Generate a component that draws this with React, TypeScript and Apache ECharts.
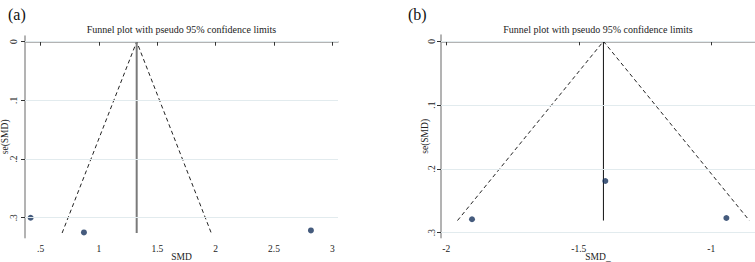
import React, { useEffect, useRef } from "react";
import * as echarts from "echarts";

// Panel (a)
const STUDY_A_SMD = [0.414, 0.871, 2.816];
const STUDY_A_SE = [0.3, 0.325, 0.3216];
const POOLED_A = 1.323;
const MAX_SE_A = 0.326;
const X_TICKS_A = [0.5, 1, 1.5, 2, 2.5, 3];

// Panel (b)
const STUDY_B_SMD = [-1.903, -1.4, -0.943];
const STUDY_B_SE = [0.279, 0.219, 0.277];
const POOLED_B = -1.407;
const MAX_SE_B = 0.281;
const X_TICKS_B = [-2, -1.5, -1];

const Y_TICKS = [0, 0.1, 0.2, 0.3];
const Z95 = 1.96;

const TITLE = "Funnel plot with pseudo 95% confidence limits";
const FONT = "'Liberation Serif', 'Times New Roman', serif";

const fmt = (v: number) => String(v).replace(/^(-?)0\./, "$1.");

function funnel(center: number, maxSe: number) {
  return [
    [center - Z95 * maxSe, maxSe],
    [center, 0],
    [center + Z95 * maxSe, maxSe],
  ];
}

export default function App() {
  const ref = useRef<HTMLDivElement>(null);
  useEffect(() => {
    if (!ref.current) return;
    const chart = echarts.init(ref.current, null, { renderer: "svg" });

    const xAxisBase = (gridIndex: number, ticks: number[], min: number, max: number, name: string) => ({
      type: "value",
      gridIndex,
      min,
      max,
      name,
      nameLocation: "middle",
      nameGap: 14,
      nameMoveOverlap: false,
      nameTextStyle: { fontFamily: FONT, fontSize: 9.5, color: "#222" },
      axisLine: { show: true, lineStyle: { color: "#9a9a9a", width: 1.5 } },
      axisTick: { show: true, customValues: ticks, length: 4, lineStyle: { color: "#333", width: 1 } },
      axisLabel: { customValues: ticks, formatter: fmt, fontFamily: FONT, fontSize: 9.5, color: "#222", margin: 6 },
      splitLine: { show: false },
    });

    const yAxisBase = (gridIndex: number, min: number, max: number, nameGap: number, labelMargin: number) => ({
      type: "value",
      gridIndex,
      inverse: true,
      min,
      max,
      name: "se(SMD)",
      nameLocation: "middle",
      nameGap,
      nameMoveOverlap: false,
      nameRotate: 90,
      nameTextStyle: { fontFamily: FONT, fontSize: 9.5, color: "#222" },
      axisLine: { show: true, lineStyle: { color: "#9a9a9a", width: 1.5 } },
      axisTick: { show: true, customValues: Y_TICKS, length: 4, lineStyle: { color: "#333", width: 1 } },
      axisLabel: { customValues: Y_TICKS, formatter: fmt, rotate: 90, fontFamily: FONT, fontSize: 9.5, color: "#222", margin: labelMargin },
      splitLine: { show: false },
    });

    const gridLines = (idx: number) => ({
      type: "line",
      xAxisIndex: idx,
      yAxisIndex: idx,
      data: [],
      silent: true,
      z: 1,
      markLine: {
        silent: true,
        symbol: "none",
        label: { show: false },
        lineStyle: { color: "#e2ebee", width: 1, type: "solid" },
        data: Y_TICKS.map((v) => ({ yAxis: v })),
      },
    });

    const funnelSeries = (idx: number, center: number, maxSe: number) => ({
      type: "line",
      xAxisIndex: idx,
      yAxisIndex: idx,
      data: funnel(center, maxSe),
      symbol: "none",
      z: 2,
      lineStyle: { color: "#222", width: 1, type: [4, 3] },
    });

    const pooledSeries = (idx: number, center: number, maxSe: number, color: string, width: number) => ({
      type: "line",
      xAxisIndex: idx,
      yAxisIndex: idx,
      data: [
        [center, 0],
        [center, maxSe],
      ],
      symbol: "none",
      z: 3,
      lineStyle: { color, width },
    });

    const scatterSeries = (idx: number, xs: number[], ys: number[]) => ({
      type: "scatter",
      xAxisIndex: idx,
      yAxisIndex: idx,
      data: xs.map((x, i) => [x, ys[i]]),
      symbol: "circle",
      symbolSize: 6,
      z: 4,
      itemStyle: { color: "#17325c" },
    });

    chart.setOption({
      animation: false,
      backgroundColor: "#ffffff",
      grid: [
        { left: 25, top: 36, width: 313, height: 201.7, outerBoundsMode: "none" },
        { left: 441, top: 35, width: 314, height: 202.7, outerBoundsMode: "none" },
      ],
      xAxis: [
        xAxisBase(0, X_TICKS_A, 0.366, 3.048, "SMD"),
        xAxisBase(1, X_TICKS_B, -2.02, -0.835, "SMD_"),
      ],
      yAxis: [yAxisBase(0, -0.0097, 0.334, 15, 6.5), yAxisBase(1, -0.0099, 0.3079, 11, 4)],
      graphic: [
        { type: "text", left: 8, top: 6, style: { text: "(a)", font: `16px ${FONT}`, fill: "#111" } },
        { type: "text", left: 408, top: 6, style: { text: "(b)", font: `16px ${FONT}`, fill: "#111" } },
        { type: "text", x: 181.5, y: 29, style: { text: TITLE, font: `10px ${FONT}`, fill: "#222", align: "center", verticalAlign: "middle" } },
        { type: "text", x: 598, y: 29, style: { text: TITLE, font: `10px ${FONT}`, fill: "#222", align: "center", verticalAlign: "middle" } },
      ],
      series: [
        gridLines(0),
        gridLines(1),
        funnelSeries(0, POOLED_A, MAX_SE_A),
        funnelSeries(1, POOLED_B, MAX_SE_B),
        pooledSeries(0, POOLED_A, MAX_SE_A, "#7a7a7a", 2),
        pooledSeries(1, POOLED_B, MAX_SE_B, "#111", 1),
        scatterSeries(0, STUDY_A_SMD, STUDY_A_SE),
        scatterSeries(1, STUDY_B_SMD, STUDY_B_SE),
      ],
    });
    return () => chart.dispose();
  }, []);
  return (
    <div
      ref={ref}
      style={{ position: "fixed", left: 0, top: 0, width: 755, height: 262, background: "#fff" }}
    />
  );
}
